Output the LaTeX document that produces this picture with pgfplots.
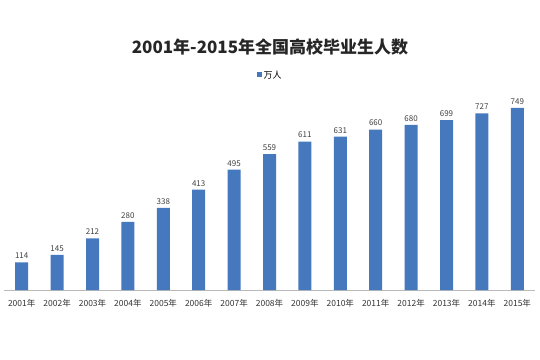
\documentclass[border=0pt]{standalone}
\usepackage{fontspec}
\setmainfont{Noto Sans CJK SC}
\usepackage{pgfplots}
\pgfplotsset{compat=1.18}
\definecolor{barblue}{RGB}{70,120,190}
\begin{document}
\begin{tikzpicture}[x=1pt,y=1pt]
\useasboundingbox (0,0) rectangle (540,359);
\node[font=\fontsize{17}{17}\selectfont\bfseries, text=black!85] at (270,312) {2001年-2015年全国高校毕业生人数};
\begin{axis}[
  at={(4pt,69pt)}, anchor=south west,
  scale only axis, width=531pt, height=194.4pt,
  xmin=-0.5, xmax=14.5, ymin=0, ymax=800,
  axis y line=none, axis x line=bottom,
  x axis line style={draw=gray!55, -},
  xtick=data,
  xticklabels={2001年,2002年,2003年,2004年,2005年,2006年,2007年,2008年,2009年,2010年,2011年,2012年,2013年,2014年,2015年},
  major tick length=0pt,
  xticklabel style={font=\fontsize{8.5}{8.5}\selectfont, text=black!80, yshift=-6pt},
  /pgf/number format/assume math mode=true,
  ybar, bar width=13pt,
  nodes near coords,
  nodes near coords style={font=\fontsize{8}{8}\selectfont, text=black!75},
  clip=false,
  legend style={at={(0.501,1.106)}, anchor=center, draw=none, fill=none, font=\fontsize{9}{9}\selectfont},
]
\addplot[fill=barblue, draw=none, legend image code/.code={\fill[barblue] (0pt,-2.5pt) rectangle (5pt,2.5pt);}] coordinates {
(0,114) (1,145) (2,212) (3,280) (4,338) (5,413) (6,495) (7,559)
(8,611) (9,631) (10,660) (11,680) (12,699) (13,727) (14,749)};
\addlegendentry{万人}
\end{axis}
\end{tikzpicture}
\end{document}
